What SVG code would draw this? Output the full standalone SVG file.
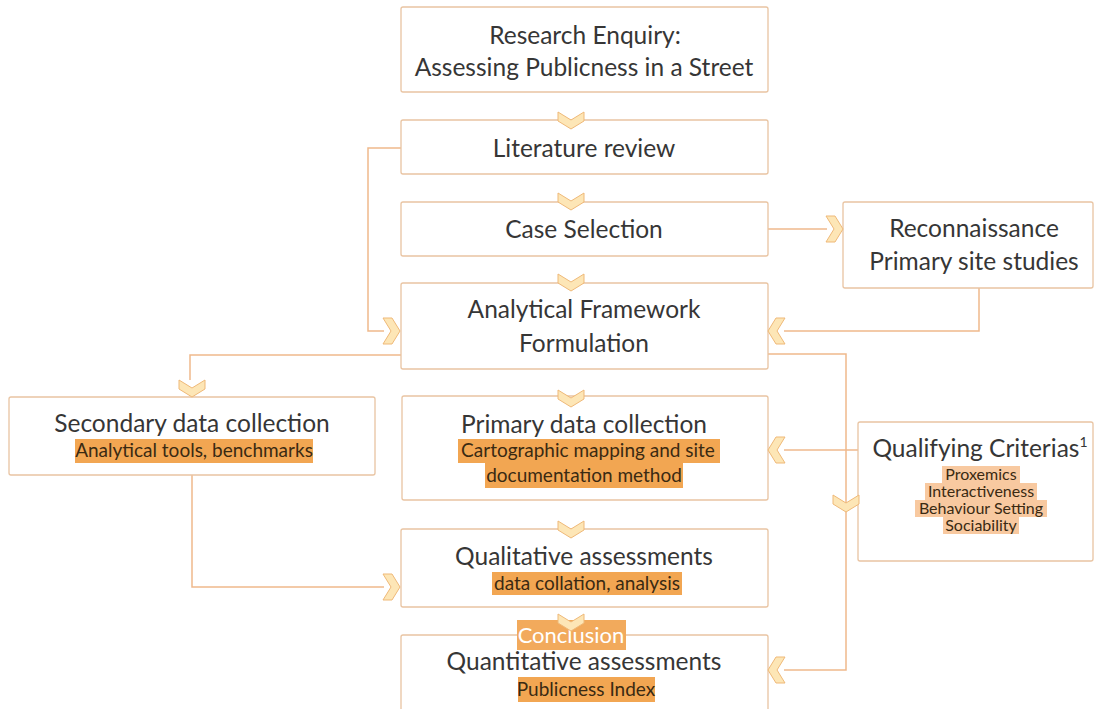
<svg xmlns="http://www.w3.org/2000/svg" width="1095" height="709" viewBox="0 0 1095 709">
<defs>
<style>
.box{fill:#fff;stroke:#e9c4a2;stroke-width:1.3}
.con{fill:none;stroke:#efb98c;stroke-width:1.5}
.chev{fill:#fde6b6;stroke:#efb978;stroke-width:1}
.t{font-family:Lato,"Open Sans",sans-serif;fill:#363636;text-anchor:middle}
.big{font-size:24.5px}
.sm{font-family:Lato,"Open Sans",sans-serif;font-size:19px;fill:#3a2a12;text-anchor:middle}
.xs{font-family:Lato,"Open Sans",sans-serif;font-size:16px;fill:#3a2a12;text-anchor:middle}
.hl{fill:#f2a652}
.hl2{fill:#f8c9a0}
</style>
<polygon id="chev" points="-17,-13 -8,-13 0,0 -8,13 -17,13 -9,0"/>
</defs>

<g id="connectors">
<path class="con" d="M401,148 H368 V331 H384"/>
<path class="con" d="M401,355 H190 V380"/>
<path class="con" d="M192,475 V587 H384"/>
<path class="con" d="M768,229 H827"/>
<path class="con" d="M979,288 V331 H784"/>
<path class="con" d="M768,354 H846 V670 H784"/>
<path class="con" d="M858,450 H784"/>
</g>

<g id="n-research">
<rect class="box" x="401" y="7" width="367" height="85" rx="2"/>
<text class="t big" x="585" y="44">Research Enquiry:</text>
<text class="t big" x="584" y="76">Assessing Publicness in a Street</text>
</g>

<g id="n-literature">
<rect class="box" x="401" y="120" width="367" height="54" rx="2"/>
<text class="t big" x="584" y="157">Literature review</text>
</g>

<g id="n-case">
<rect class="box" x="401" y="202" width="367" height="54" rx="2"/>
<text class="t big" x="584" y="238">Case Selection</text>
</g>

<g id="n-recon">
<rect class="box" x="843" y="202" width="250" height="86" rx="2"/>
<text class="t big" x="974" y="237">Reconnaissance</text>
<text class="t big" x="974" y="270">Primary site studies</text>
</g>

<g id="n-analytical">
<rect class="box" x="401" y="283" width="367" height="86" rx="2"/>
<text class="t big" x="584" y="318">Analytical Framework</text>
<text class="t big" x="584" y="352">Formulation</text>
</g>

<g id="n-secondary">
<rect class="box" x="9" y="397" width="366" height="78" rx="2"/>
<text class="t big" x="192" y="432">Secondary data collection</text>
<rect class="hl" x="75" y="439" width="238" height="24"/>
<text class="sm" x="194" y="457">Analytical tools, benchmarks</text>
</g>

<g id="n-primary">
<rect class="box" x="402" y="396" width="366" height="104" rx="2"/>
<text class="t big" x="584" y="433">Primary data collection</text>
<rect class="hl" x="458" y="439" width="262" height="24"/>
<rect class="hl" x="485" y="463" width="198" height="25"/>
<text class="sm" x="588" y="457">Cartographic mapping and site</text>
<text class="sm" x="584" y="482">documentation  method</text>
</g>

<g id="n-qualifying">
<rect class="box" x="858" y="422" width="235" height="139" rx="2"/>
<text class="t big" x="980" y="457">Qualifying Criterias<tspan font-size="14" dy="-10">1</tspan></text>
<rect class="hl2" x="942" y="466" width="78" height="17"/>
<rect class="hl2" x="925" y="483" width="112" height="17"/>
<rect class="hl2" x="915" y="500" width="132" height="17"/>
<rect class="hl2" x="943" y="517" width="76" height="17"/>
<text class="xs" x="981" y="480">Proxemics</text>
<text class="xs" x="981" y="497">Interactiveness</text>
<text class="xs" x="981" y="514">Behaviour Setting</text>
<text class="xs" x="981" y="531">Sociability</text>
</g>

<g id="n-qualitative">
<rect class="box" x="401" y="529" width="367" height="78" rx="2"/>
<text class="t big" x="584" y="565">Qualitative assessments</text>
<rect class="hl" x="492" y="572" width="190" height="23"/>
<text class="sm" x="587" y="590">data collation, analysis</text>
</g>

<g id="n-quantitative">
<rect class="box" x="401" y="635" width="367" height="90" rx="2"/>
<rect fill="#f2aa5c" x="517" y="620" width="109" height="30"/>
<text class="t" x="571" y="643" style="fill:#ffffff;font-size:22px">Conclusion</text>
<text class="t big" x="584" y="670">Quantitative assessments</text>
<rect class="hl" x="518" y="677" width="137" height="25"/>
<text class="sm" x="586" y="696">Publicness Index</text>
</g>

<g id="chevrons">
<use href="#chev" class="chev" transform="translate(571,129) rotate(90)"/>
<use href="#chev" class="chev" transform="translate(571,210) rotate(90)"/>
<use href="#chev" class="chev" transform="translate(571,291) rotate(90)"/>
<use href="#chev" class="chev" transform="translate(571,407) rotate(90)"/>
<use href="#chev" class="chev" transform="translate(571,538) rotate(90)"/>
<use href="#chev" class="chev" transform="translate(571,631) rotate(90)"/>
<use href="#chev" class="chev" transform="translate(192,397) rotate(90)"/>
<use href="#chev" class="chev" transform="translate(846,512) rotate(90)"/>
<use href="#chev" class="chev" transform="translate(400,331)"/>
<use href="#chev" class="chev" transform="translate(400,587)"/>
<use href="#chev" class="chev" transform="translate(843,229)"/>
<use href="#chev" class="chev" transform="translate(768,331) rotate(180)"/>
<use href="#chev" class="chev" transform="translate(768,450) rotate(180)"/>
<use href="#chev" class="chev" transform="translate(768,670) rotate(180)"/>
</g>
</svg>
